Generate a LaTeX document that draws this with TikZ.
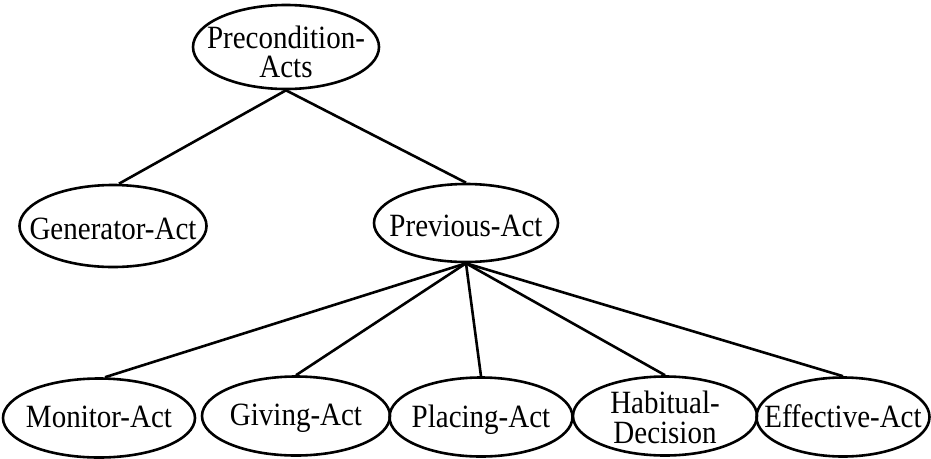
\documentclass[tikz,border=0pt]{standalone}
\usepackage{fontspec}
\setmainfont{Liberation Serif}
\usetikzlibrary{shapes.geometric}
% slightly tall lettering, one or more centred lines
\newcommand{\talltext}[1]{\scalebox{1}[1.12]{\begin{tabular}{@{}c@{}}#1\end{tabular}}}
\begin{document}
\begin{tikzpicture}[x=1pt,y=-1pt,
  font=\fontsize{29}{25}\selectfont,
  oval/.style n args={2}{ellipse, draw, line width=2.6pt, inner sep=0pt,
    minimum width=#1, minimum height=#2},
  link/.style={line width=2.6pt},
  every label/.style={inner sep=0pt}]
\useasboundingbox (0,0) rectangle (931,458);

% top level
\node[oval={186}{84}, label={[yshift=-9pt]center:\talltext{Precondition-\\Acts}}] (pre) at (286,47) {};

% second level
\node[oval={187}{82}, label={[yshift=-7pt]center:\talltext{Generator-Act}}] (gen) at (113,226) {};
\node[oval={184}{78}, label={[yshift=-7pt]center:\talltext{Previous-Act}}] (prev) at (466,223) {};

% bottom row
\node[oval={192}{79}, label={[yshift=-3pt]center:\talltext{Monitor-Act}}]   (mon) at (99,418) {};
\node[oval={188}{79}, label={[yshift=-3pt]center:\talltext{Giving-Act}}]    (giv) at (296,416) {};
\node[oval={183}{79}, label={[yshift=-3pt]center:\talltext{Placing-Act}}]   (pla) at (481,417) {};
\node[oval={184}{79}, label={[yshift=-5pt]center:\talltext{Habitual-\\Decision}}] (hab) at (665,416) {};
\node[oval={173}{79}, label={[yshift=-3pt]center:\talltext{Effective-Act}}] (eff) at (843,417) {};

% connectors
\draw[link] (pre.south) -- ([xshift=6pt]gen.north);
\draw[link] (pre.south) -- (prev.north);
\draw[link] (prev.south) -- ([xshift=6pt]mon.north);
\draw[link] (prev.south) -- (giv.north);
\draw[link] (prev.south) -- (pla.north);
\draw[link] (prev.south) -- (hab.north);
\draw[link] (prev.south) -- (eff.north);
\end{tikzpicture}
\end{document}
